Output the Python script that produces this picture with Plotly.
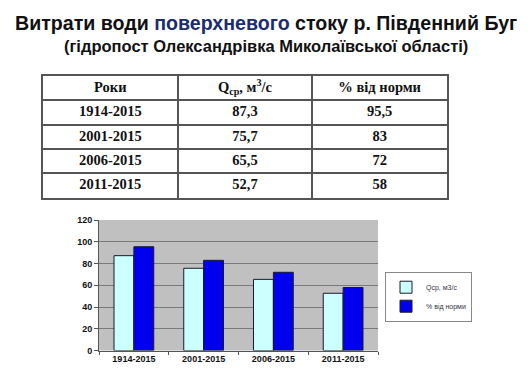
import plotly.graph_objects as go

periods = ["1914-2015", "2001-2015", "2006-2015", "2011-2015"]
q_values = [87.3, 75.7, 65.5, 52.7]
pct_values = [95.5, 83, 72, 58]
table_headers = ["Роки", "Q<sub>ср</sub>, м<sup>3</sup>/с", "% від норми"]
series_names = ["Qср, м3/с", "% від норми"]

W, H = 532, 376

def fx(px):
    return px / W

def fy(py):
    return 1 - py / H

def ua(v):
    return f"{v:g}".replace(".", ",")

# table contents (column-wise)
columns = [periods, [ua(v) for v in q_values], [ua(v) for v in pct_values]]
tx, ty, tt = [], [], []
for c, head in enumerate(table_headers):
    tx.append(c + 0.5); ty.append(0.5); tt.append(f"<b>{head}</b>")
    for r, val in enumerate(columns[c]):
        tx.append(c + 0.5); ty.append(r + 1.5); tt.append(f"<b>{val}</b>")

fig = go.Figure()

fig.add_trace(go.Scatter(
    x=tx, y=ty, text=tt, mode="text", xaxis="x2", yaxis="y2",
    textposition="middle center", showlegend=False, hoverinfo="skip",
    textfont=dict(family="Liberation Serif", size=14.5, color="#111111"),
))

fig.add_trace(go.Bar(
    x=periods, y=q_values, name=series_names[0],
    marker=dict(color="#ccffff", line=dict(color="#1a1a2a", width=1)),
))
fig.add_trace(go.Bar(
    x=periods, y=pct_values, name=series_names[1],
    marker=dict(color="#0000ee", line=dict(color="#1a1a2a", width=1)),
))

fig.update_layout(
    width=W, height=H,
    margin=dict(l=0, r=0, t=0, b=0),
    paper_bgcolor="white",
    plot_bgcolor="rgba(0,0,0,0)",
    barmode="group",
    bargap=0.43,
    bargroupgap=0,
    showlegend=True,
    legend=dict(
        x=fx(385), y=fy(274), xanchor="left", yanchor="top",
        bgcolor="white", bordercolor="#888888", borderwidth=1,
        font=dict(family="Liberation Sans", size=7, color="#333344"),
        tracegroupgap=0, itemwidth=30,
    ),
    xaxis=dict(
        domain=[fx(99), fx(378)],
        showline=True, linecolor="#555555", linewidth=1,
        ticks="outside", tickson="boundaries", ticklen=3, tickcolor="#555555",
        tickfont=dict(family="Liberation Sans", size=9, color="#111111", weight="bold"),
        showgrid=False,
    ),
    yaxis=dict(
        domain=[fy(355), fy(221)],
        range=[0, 120], dtick=20,
        showline=True, linecolor="#555555", linewidth=1,
        ticks="outside", ticklen=4, tickcolor="#555555",
        tickfont=dict(family="Liberation Sans", size=9, color="#111111", weight="bold"),
        showgrid=True, gridcolor="#7a7a7a", gridwidth=1,
        zeroline=False,
    ),
    xaxis2=dict(
        domain=[fx(43), fx(447)], anchor="y2",
        range=[0, 3], tickvals=[1, 2], showticklabels=False, ticks="",
        showgrid=True, gridcolor="#555555", gridwidth=1.5, zeroline=False,
        showline=True, mirror=True, linecolor="#555555", linewidth=1.5,
        fixedrange=True,
    ),
    yaxis2=dict(
        domain=[fy(198), fy(73)], anchor="x2",
        range=[5, 0], tickvals=[1, 2, 3, 4], showticklabels=False, ticks="",
        showgrid=True, gridcolor="#555555", gridwidth=1.5, zeroline=False,
        showline=True, mirror=True, linecolor="#555555", linewidth=1.5,
        fixedrange=True,
    ),
    shapes=[
        dict(type="rect", xref="x domain", yref="y domain", x0=0, x1=1, y0=0, y1=1,
             fillcolor="#c0c0c0", line=dict(width=0), layer="below"),
    ],
    annotations=[
        dict(
            text="Витрати води <span style='color:#1b2d6e'>поверхневого</span> стоку р. Південний Буг",
            x=0.5, y=fy(19), xref="paper", yref="paper", xanchor="center", yanchor="middle",
            showarrow=False,
            font=dict(family="Liberation Sans", size=19.6, color="#111111", weight="bold"),
        ),
        dict(
            text="(гідропост Олександрівка Миколаївської області)",
            x=0.5, y=fy(42), xref="paper", yref="paper", xanchor="center", yanchor="middle",
            showarrow=False,
            font=dict(family="Liberation Sans", size=16.5, color="#111111", weight="bold"),
        ),
    ],
)

fig.write_html("out.html", config={"displayModeBar": False},
               post_script="document.body.style.margin='0';")
